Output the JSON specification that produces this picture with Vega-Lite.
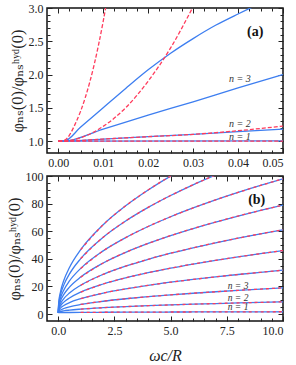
{
  "$schema": "https://vega.github.io/schema/vega-lite/v6.json",
  "background": "white",
  "padding": {"left": 5, "top": 1, "right": 5, "bottom": 0},
  "spacing": 0,
  "datasets": {
    "a": [
      {"s": "b", "n": 1, "x": 0, "y": 1}, {"s": "b", "n": 1, "x": 0.05, "y": 1.003},
      {"s": "r", "n": 1, "x": 0, "y": 1}, {"s": "r", "n": 1, "x": 0.05, "y": 1.0},
      {"s": "b", "n": 2, "x": 0, "y": 1}, {"s": "b", "n": 2, "x": 0.0013, "y": 1}, {"s": "b", "n": 2, "x": 0.01, "y": 1.03}, {"s": "b", "n": 2, "x": 0.02, "y": 1.065}, {"s": "b", "n": 2, "x": 0.03, "y": 1.1}, {"s": "b", "n": 2, "x": 0.04, "y": 1.14}, {"s": "b", "n": 2, "x": 0.05, "y": 1.18},
      {"s": "r", "n": 2, "x": 0, "y": 1}, {"s": "r", "n": 2, "x": 0.0013, "y": 1}, {"s": "r", "n": 2, "x": 0.01, "y": 1.03}, {"s": "r", "n": 2, "x": 0.02, "y": 1.065}, {"s": "r", "n": 2, "x": 0.03, "y": 1.1}, {"s": "r", "n": 2, "x": 0.04, "y": 1.155}, {"s": "r", "n": 2, "x": 0.05, "y": 1.225},
      {"s": "b", "n": 3, "x": 0, "y": 1}, {"s": "b", "n": 3, "x": 0.0013, "y": 1}, {"s": "b", "n": 3, "x": 0.01, "y": 1.18}, {"s": "b", "n": 3, "x": 0.02, "y": 1.39}, {"s": "b", "n": 3, "x": 0.03, "y": 1.59}, {"s": "b", "n": 3, "x": 0.04, "y": 1.8}, {"s": "b", "n": 3, "x": 0.05, "y": 2.0},
      {"s": "r", "n": 3, "x": 0, "y": 1}, {"s": "r", "n": 3, "x": 0.0013, "y": 1}, {"s": "r", "n": 3, "x": 0.005, "y": 1.05}, {"s": "r", "n": 3, "x": 0.01, "y": 1.22}, {"s": "r", "n": 3, "x": 0.015, "y": 1.5}, {"s": "r", "n": 3, "x": 0.02, "y": 1.9}, {"s": "r", "n": 3, "x": 0.025, "y": 2.4}, {"s": "r", "n": 3, "x": 0.03, "y": 3.02},
      {"s": "b", "n": 4, "x": 0, "y": 1}, {"s": "b", "n": 4, "x": 0.0013, "y": 1}, {"s": "b", "n": 4, "x": 0.005, "y": 1.21}, {"s": "b", "n": 4, "x": 0.01, "y": 1.5}, {"s": "b", "n": 4, "x": 0.015, "y": 1.79}, {"s": "b", "n": 4, "x": 0.02, "y": 2.07}, {"s": "b", "n": 4, "x": 0.025, "y": 2.32}, {"s": "b", "n": 4, "x": 0.03, "y": 2.54}, {"s": "b", "n": 4, "x": 0.035, "y": 2.74}, {"s": "b", "n": 4, "x": 0.04, "y": 2.91}, {"s": "b", "n": 4, "x": 0.045, "y": 3.07}, {"s": "b", "n": 4, "x": 0.05, "y": 3.22},
      {"s": "r", "n": 4, "x": 0, "y": 1}, {"s": "r", "n": 4, "x": 0.0013, "y": 1.01}, {"s": "r", "n": 4, "x": 0.004, "y": 1.29}, {"s": "r", "n": 4, "x": 0.006, "y": 1.65}, {"s": "r", "n": 4, "x": 0.008, "y": 2.15}, {"s": "r", "n": 4, "x": 0.01, "y": 2.8}, {"s": "r", "n": 4, "x": 0.011, "y": 3.18}
    ],
    "b": [
      {"n": 1, "x": 0, "y": 1}, {"n": 1, "x": 0.02, "y": 1.04}, {"n": 1, "x": 0.1, "y": 1.08}, {"n": 1, "x": 0.25, "y": 1.12}, {"n": 1, "x": 0.5, "y": 1.16}, {"n": 1, "x": 1, "y": 1.23}, {"n": 1, "x": 2, "y": 1.32}, {"n": 1, "x": 3, "y": 1.39}, {"n": 1, "x": 4, "y": 1.45}, {"n": 1, "x": 5, "y": 1.5}, {"n": 1, "x": 6, "y": 1.54}, {"n": 1, "x": 7, "y": 1.59}, {"n": 1, "x": 8, "y": 1.62}, {"n": 1, "x": 9, "y": 1.66}, {"n": 1, "x": 10, "y": 1.69},
      {"n": 2, "x": 0, "y": 1}, {"n": 2, "x": 0.02, "y": 1.4}, {"n": 2, "x": 0.1, "y": 1.86}, {"n": 2, "x": 0.25, "y": 2.34}, {"n": 2, "x": 0.5, "y": 2.87}, {"n": 2, "x": 1, "y": 3.61}, {"n": 2, "x": 2, "y": 4.64}, {"n": 2, "x": 3, "y": 5.42}, {"n": 2, "x": 4, "y": 6.08}, {"n": 2, "x": 5, "y": 6.65}, {"n": 2, "x": 6, "y": 7.17}, {"n": 2, "x": 7, "y": 7.64}, {"n": 2, "x": 8, "y": 8.08}, {"n": 2, "x": 9, "y": 8.49}, {"n": 2, "x": 10, "y": 8.88},
      {"n": 3, "x": 0, "y": 1}, {"n": 3, "x": 0.02, "y": 1.91}, {"n": 3, "x": 0.1, "y": 2.97}, {"n": 3, "x": 0.25, "y": 4.06}, {"n": 3, "x": 0.5, "y": 5.27}, {"n": 3, "x": 1, "y": 6.96}, {"n": 3, "x": 2, "y": 9.31}, {"n": 3, "x": 3, "y": 11.1}, {"n": 3, "x": 4, "y": 12.59}, {"n": 3, "x": 5, "y": 13.9}, {"n": 3, "x": 6, "y": 15.08}, {"n": 3, "x": 7, "y": 16.17}, {"n": 3, "x": 8, "y": 17.17}, {"n": 3, "x": 9, "y": 18.11}, {"n": 3, "x": 10, "y": 19.0},
      {"n": 4, "x": 0, "y": 1}, {"n": 4, "x": 0.02, "y": 2.56}, {"n": 4, "x": 0.1, "y": 4.38}, {"n": 4, "x": 0.25, "y": 6.24}, {"n": 4, "x": 0.5, "y": 8.31}, {"n": 4, "x": 1, "y": 11.2}, {"n": 4, "x": 2, "y": 15.23}, {"n": 4, "x": 3, "y": 18.28}, {"n": 4, "x": 4, "y": 20.84}, {"n": 4, "x": 5, "y": 23.08}, {"n": 4, "x": 6, "y": 25.1}, {"n": 4, "x": 7, "y": 26.96}, {"n": 4, "x": 8, "y": 28.67}, {"n": 4, "x": 9, "y": 30.28}, {"n": 4, "x": 10, "y": 31.8},
      {"n": 5, "x": 0, "y": 1}, {"n": 5, "x": 0.02, "y": 3.28}, {"n": 5, "x": 0.1, "y": 5.93}, {"n": 5, "x": 0.25, "y": 8.66}, {"n": 5, "x": 0.5, "y": 11.68}, {"n": 5, "x": 1, "y": 15.9}, {"n": 5, "x": 2, "y": 21.79}, {"n": 5, "x": 3, "y": 26.24}, {"n": 5, "x": 4, "y": 29.98}, {"n": 5, "x": 5, "y": 33.26}, {"n": 5, "x": 6, "y": 36.21}, {"n": 5, "x": 7, "y": 38.92}, {"n": 5, "x": 8, "y": 41.42}, {"n": 5, "x": 9, "y": 43.78}, {"n": 5, "x": 10, "y": 46.0},
      {"n": 6, "x": 0, "y": 1}, {"n": 6, "x": 0.02, "y": 4.04}, {"n": 6, "x": 0.1, "y": 7.59}, {"n": 6, "x": 0.25, "y": 11.23}, {"n": 6, "x": 0.5, "y": 15.27}, {"n": 6, "x": 1, "y": 20.9}, {"n": 6, "x": 2, "y": 28.76}, {"n": 6, "x": 3, "y": 34.71}, {"n": 6, "x": 4, "y": 39.71}, {"n": 6, "x": 5, "y": 44.08}, {"n": 6, "x": 6, "y": 48.02}, {"n": 6, "x": 7, "y": 51.65}, {"n": 6, "x": 8, "y": 54.99}, {"n": 6, "x": 9, "y": 58.13}, {"n": 6, "x": 10, "y": 61.1},
      {"n": 7, "x": 0, "y": 1}, {"n": 7, "x": 0.02, "y": 4.95}, {"n": 7, "x": 0.1, "y": 9.54}, {"n": 7, "x": 0.25, "y": 14.26}, {"n": 7, "x": 0.5, "y": 19.5}, {"n": 7, "x": 1, "y": 26.8}, {"n": 7, "x": 2, "y": 36.99}, {"n": 7, "x": 3, "y": 44.71}, {"n": 7, "x": 4, "y": 51.18}, {"n": 7, "x": 5, "y": 56.86}, {"n": 7, "x": 6, "y": 61.97}, {"n": 7, "x": 7, "y": 66.66}, {"n": 7, "x": 8, "y": 70.99}, {"n": 7, "x": 9, "y": 75.07}, {"n": 7, "x": 10, "y": 78.92},
      {"n": 8, "x": 0, "y": 1}, {"n": 8, "x": 0.02, "y": 5.91}, {"n": 8, "x": 0.1, "y": 11.63}, {"n": 8, "x": 0.25, "y": 17.5}, {"n": 8, "x": 0.5, "y": 24.02}, {"n": 8, "x": 1, "y": 33.1}, {"n": 8, "x": 2, "y": 45.78}, {"n": 8, "x": 3, "y": 55.38}, {"n": 8, "x": 4, "y": 63.43}, {"n": 8, "x": 5, "y": 70.5}, {"n": 8, "x": 6, "y": 76.85}, {"n": 8, "x": 7, "y": 82.69}, {"n": 8, "x": 8, "y": 88.09}, {"n": 8, "x": 9, "y": 93.16}, {"n": 8, "x": 10, "y": 97.94},
      {"n": 9, "x": 0, "y": 1}, {"n": 9, "x": 0.02, "y": 7.0}, {"n": 9, "x": 0.1, "y": 13.98}, {"n": 9, "x": 0.25, "y": 21.15}, {"n": 9, "x": 0.5, "y": 29.11}, {"n": 9, "x": 1, "y": 40.2}, {"n": 9, "x": 2, "y": 55.68}, {"n": 9, "x": 3, "y": 67.4}, {"n": 9, "x": 4, "y": 77.24}, {"n": 9, "x": 5, "y": 85.87}, {"n": 9, "x": 6, "y": 93.63}, {"n": 9, "x": 7, "y": 100.76},
      {"n": 10, "x": 0, "y": 1}, {"n": 10, "x": 0.02, "y": 7.99}, {"n": 10, "x": 0.1, "y": 16.13}, {"n": 10, "x": 0.25, "y": 24.49}, {"n": 10, "x": 0.5, "y": 33.77}, {"n": 10, "x": 1, "y": 46.7}, {"n": 10, "x": 2, "y": 64.75}, {"n": 10, "x": 3, "y": 78.42}, {"n": 10, "x": 4, "y": 89.89}, {"n": 10, "x": 5, "y": 99.94}, {"n": 10, "x": 6, "y": 108.99}
    ]
  },
  "vconcat": [
    {
      "width": 236,
      "height": 145,
      "data": {"name": "a"},
      "layer": [
        {
          "transform": [{"filter": "datum.s == 'b'"}],
          "mark": {"type": "line", "clip": true, "interpolate": "monotone", "color": "#3d7ef0", "strokeWidth": 1.3},
          "encoding": {
            "x": {"field": "x", "type": "quantitative", "scale": {"domain": [-0.0025, 0.05], "nice": false, "zero": false},
                  "axis": {"orient": "bottom", "values": [0, 0.01, 0.02, 0.03, 0.04, 0.05], "format": ".2f", "tickSize": -5, "labelPadding": 9, "title": null}},
            "y": {"field": "y", "type": "quantitative", "scale": {"domain": [0.82, 3], "nice": false, "zero": false},
                  "axis": {"orient": "left", "values": [1, 1.5, 2, 2.5, 3], "format": ".1f", "tickSize": -5, "labelPadding": 9, "title": "φₙₛ(0)/φₙₛʰʸᵈ(0)", "titleFontSize": 16.5, "titlePadding": 3}},
            "detail": {"field": "n"}
          }
        },
        {
          "transform": [{"filter": "datum.s == 'r'"}],
          "mark": {"type": "line", "clip": true, "interpolate": "monotone", "color": "#ff3b5c", "strokeWidth": 1.3, "strokeDash": [4, 2]},
          "encoding": {
            "x": {"field": "x", "type": "quantitative", "scale": {"domain": [-0.0025, 0.05], "nice": false, "zero": false},
                  "axis": {"orient": "top", "values": [0, 0.01, 0.02, 0.03, 0.04, 0.05], "labels": false, "tickSize": -5, "title": null}},
            "y": {"field": "y", "type": "quantitative", "scale": {"domain": [0.82, 3], "nice": false, "zero": false},
                  "axis": {"orient": "right", "values": [1, 1.5, 2, 2.5, 3], "labels": false, "tickSize": -5, "title": null}},
            "detail": {"field": "n"}
          }
        },
        {
          "data": {"values": [{"x": 0.0404, "y": 1.93, "t": "n = 3"}, {"x": 0.0404, "y": 1.25, "t": "n = 2"}, {"x": 0.0404, "y": 1.065, "t": "n = 1"}]},
          "mark": {"type": "text", "fontStyle": "italic", "fontSize": 10, "color": "#333"},
          "encoding": {
            "x": {"field": "x", "type": "quantitative", "scale": {"domain": [-0.0025, 0.05], "nice": false, "zero": false},
                  "axis": {"orient": "bottom", "values": [0.0025, 0.005, 0.0075, 0.0125, 0.015, 0.0175, 0.0225, 0.025, 0.0275, 0.0325, 0.035, 0.0375, 0.0425, 0.045, 0.0475], "labels": false, "tickSize": -3, "title": null}},
            "y": {"field": "y", "type": "quantitative", "scale": {"domain": [0.82, 3], "nice": false, "zero": false},
                  "axis": {"orient": "left", "values": [0.9, 1.1, 1.2, 1.3, 1.4, 1.6, 1.7, 1.8, 1.9, 2.1, 2.2, 2.3, 2.4, 2.6, 2.7, 2.8, 2.9], "labels": false, "tickSize": -3, "title": null}},
            "text": {"field": "t"}
          }
        },
        {
          "data": {"values": [{"x": 0.0438, "y": 2.64, "t": "(a)"}]},
          "mark": {"type": "text", "fontWeight": "bold", "fontSize": 14, "color": "#111"},
          "encoding": {
            "x": {"field": "x", "type": "quantitative", "scale": {"domain": [-0.0025, 0.05], "nice": false, "zero": false},
                  "axis": {"orient": "top", "values": [0.0025, 0.005, 0.0075, 0.0125, 0.015, 0.0175, 0.0225, 0.025, 0.0275, 0.0325, 0.035, 0.0375, 0.0425, 0.045, 0.0475], "labels": false, "tickSize": -3, "title": null}},
            "y": {"field": "y", "type": "quantitative", "scale": {"domain": [0.82, 3], "nice": false, "zero": false},
                  "axis": {"orient": "right", "values": [0.9, 1.1, 1.2, 1.3, 1.4, 1.6, 1.7, 1.8, 1.9, 2.1, 2.2, 2.3, 2.4, 2.6, 2.7, 2.8, 2.9], "labels": false, "tickSize": -3, "title": null}},
            "text": {"field": "t"}
          }
        }
      ],
      "resolve": {"axis": {"x": "independent", "y": "independent"}}
    },
    {
      "width": 236,
      "height": 145,
      "data": {"name": "b"},
      "layer": [
        {
          "mark": {"type": "line", "clip": true, "interpolate": "monotone", "color": "#3d7ef0", "strokeWidth": 1.3},
          "encoding": {
            "x": {"field": "x", "type": "quantitative", "scale": {"domain": [-0.5, 10], "nice": false, "zero": false},
                  "axis": {"orient": "bottom", "values": [0, 2.5, 5, 7.5, 10], "format": ".1f", "tickSize": -5, "labelPadding": 9, "title": "ωc/R", "titleFontSize": 16, "titleFontStyle": "italic", "titlePadding": 11}},
            "y": {"field": "y", "type": "quantitative", "scale": {"domain": [-5, 100], "nice": false, "zero": false},
                  "axis": {"orient": "left", "values": [0, 20, 40, 60, 80, 100], "format": "d", "tickSize": -5, "labelPadding": 9, "title": "φₙₛ(0)/φₙₛʰʸᵈ(0)", "titleFontSize": 16.5, "titlePadding": 3}},
            "detail": {"field": "n"}
          }
        },
        {
          "transform": [{"filter": "datum.x >= 1"}],
          "mark": {"type": "line", "clip": true, "interpolate": "monotone", "color": "#ff3b5c", "strokeWidth": 1.3, "strokeDash": [3, 3]},
          "encoding": {
            "x": {"field": "x", "type": "quantitative", "scale": {"domain": [-0.5, 10], "nice": false, "zero": false},
                  "axis": {"orient": "top", "values": [0, 2.5, 5, 7.5, 10], "labels": false, "tickSize": -5, "title": null}},
            "y": {"field": "y", "type": "quantitative", "scale": {"domain": [-5, 100], "nice": false, "zero": false},
                  "axis": {"orient": "right", "values": [0, 20, 40, 60, 80, 100], "labels": false, "tickSize": -5, "title": null}},
            "detail": {"field": "n"}
          }
        },
        {
          "data": {"values": [{"x": 8.0, "y": 20.5, "t": "n = 3"}, {"x": 8.0, "y": 12.0, "t": "n = 2"}, {"x": 8.0, "y": 5.0, "t": "n = 1"}]},
          "mark": {"type": "text", "fontStyle": "italic", "fontSize": 9.5, "color": "#333"},
          "encoding": {
            "x": {"field": "x", "type": "quantitative", "scale": {"domain": [-0.5, 10], "nice": false, "zero": false},
                  "axis": {"orient": "bottom", "values": [0.5, 1, 1.5, 2, 3, 3.5, 4, 4.5, 5.5, 6, 6.5, 7, 8, 8.5, 9, 9.5], "labels": false, "tickSize": -3, "title": null}},
            "y": {"field": "y", "type": "quantitative", "scale": {"domain": [-5, 100], "nice": false, "zero": false},
                  "axis": {"orient": "left", "values": [5, 10, 15, 25, 30, 35, 45, 50, 55, 65, 70, 75, 85, 90, 95], "labels": false, "tickSize": -3, "title": null}},
            "text": {"field": "t"}
          }
        },
        {
          "data": {"values": [{"x": 8.83, "y": 82.8, "t": "(b)"}]},
          "mark": {"type": "text", "fontWeight": "bold", "fontSize": 14, "color": "#111"},
          "encoding": {
            "x": {"field": "x", "type": "quantitative", "scale": {"domain": [-0.5, 10], "nice": false, "zero": false},
                  "axis": {"orient": "top", "values": [0.5, 1, 1.5, 2, 3, 3.5, 4, 4.5, 5.5, 6, 6.5, 7, 8, 8.5, 9, 9.5], "labels": false, "tickSize": -3, "title": null}},
            "y": {"field": "y", "type": "quantitative", "scale": {"domain": [-5, 100], "nice": false, "zero": false},
                  "axis": {"orient": "right", "values": [5, 10, 15, 25, 30, 35, 45, 50, 55, 65, 70, 75, 85, 90, 95], "labels": false, "tickSize": -3, "title": null}},
            "text": {"field": "t"}
          }
        }
      ],
      "resolve": {"axis": {"x": "independent", "y": "independent"}}
    }
  ],
  "config": {
    "font": "Times New Roman, DejaVu Serif",
    "view": {"stroke": "#111", "strokeWidth": 1.5},
    "text": {"font": "Times New Roman, DejaVu Serif"},
    "axis": {"labelFont": "Times New Roman, DejaVu Serif", "labelFontSize": 12, "labelColor": "#222", "titleFont": "Times New Roman, DejaVu Serif", "titleFontWeight": "normal", "titleColor": "#222", "grid": false, "domain": false, "tickColor": "#222", "tickWidth": 1}
  }
}
